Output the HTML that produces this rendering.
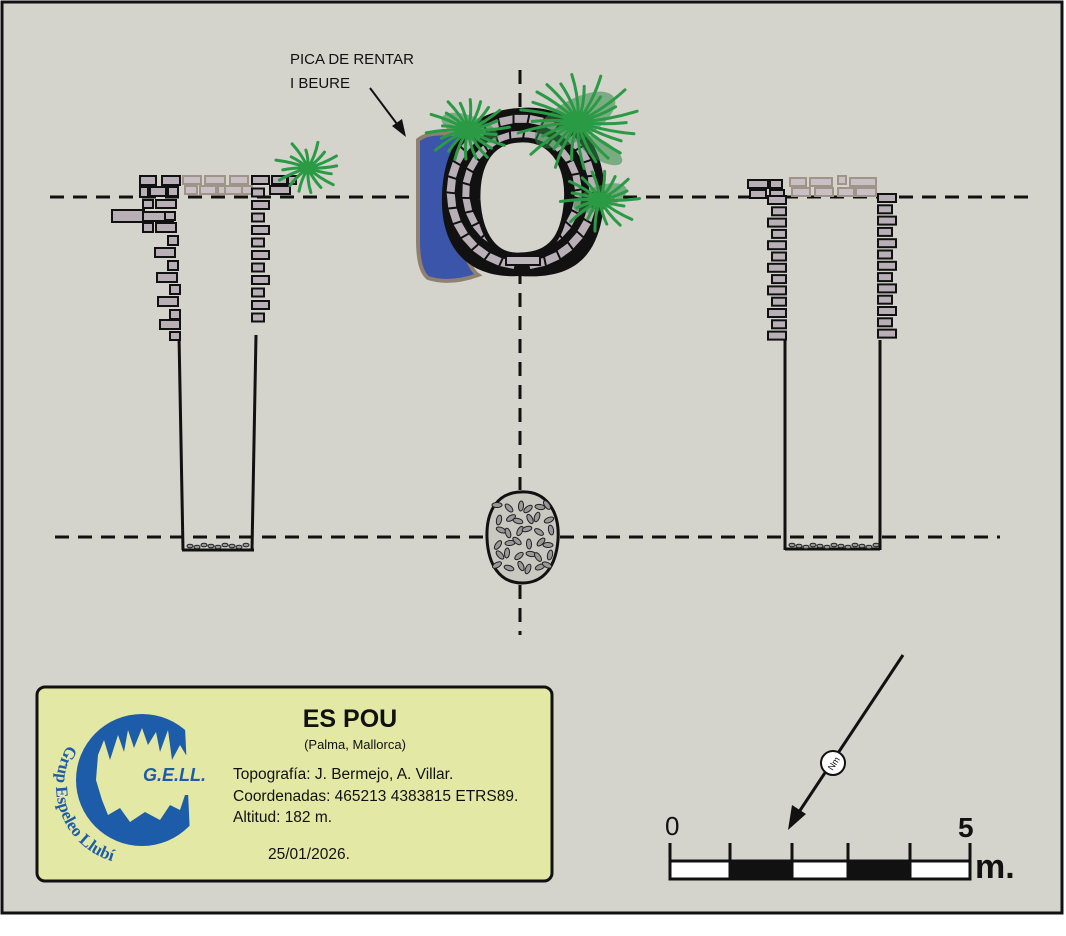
<!DOCTYPE html>
<html><head><meta charset="utf-8"><style>
html,body{margin:0;padding:0;background:#fff}
svg{display:block;font-family:"Liberation Sans",sans-serif}
</style></head><body>
<svg id="s" width="1066" height="936" viewBox="0 0 1066 936" xmlns="http://www.w3.org/2000/svg">
<rect x="0" y="0" width="1066" height="936" fill="#fff"/>
<rect x="2" y="2" width="1060" height="911" fill="#d4d3cc" stroke="#111" stroke-width="3"/>
<g stroke="#111" stroke-width="3" stroke-dasharray="14 9" fill="none">
<line x1="50" y1="197" x2="410" y2="197"/>
<line x1="600" y1="197" x2="1030" y2="197"/>
<line x1="55" y1="537" x2="485" y2="537"/>
<line x1="560" y1="537" x2="1000" y2="537"/>
<line x1="520" y1="70" x2="520" y2="108"/>
<line x1="520" y1="270" x2="520" y2="490"/>
<line x1="520" y1="585" x2="520" y2="635"/>
</g>
<g stroke="#111" stroke-width="3" fill="none">
<line x1="179" y1="335" x2="183" y2="550"/>
<line x1="256" y1="335" x2="252" y2="550"/>
<line x1="182" y1="550" x2="254" y2="550"/>
<line x1="785" y1="340" x2="785" y2="550"/>
<line x1="880" y1="340" x2="880" y2="550"/>
<line x1="785" y1="549" x2="880" y2="549"/>
</g>
<g id="bricks"></g>
<g id="gravel" fill="#999" stroke="#222" stroke-width="1"></g>
<path d="M418 140 Q430 130 460 135 L470 150 Q450 190 460 240 Q470 270 478 275 Q450 285 428 278 Q418 270 418 240 Z" fill="#3b55aa" stroke="#8f8070" stroke-width="4"/>
<path d="M520 108 C578 103 612 150 603 212 C597 255 575 280 520 276 C468 279 440 248 442 195 C444 138 474 110 520 108 Z" fill="#111"/>
<g id="ringb"></g>
<path d="M520 140 C555 138 570 170 566 205 C563 235 552 255 520 255 C495 257 480 235 478 200 C477 165 490 141 520 140 Z" fill="#d4d3cc" stroke="#111" stroke-width="5"/>
<rect x="506" y="256" width="34" height="9" fill="#bdb5bc" stroke="#111" stroke-width="2"/>
<g stroke="#2a9a45" stroke-width="3" fill="none" stroke-linecap="round" id="plants"></g>
<path d="M520 492 C545 490 560 510 558 540 C556 565 545 583 522 583 C500 583 488 565 487 538 C486 510 498 493 520 492 Z" fill="#c9c8c1" stroke="#111" stroke-width="3"/>
<g id="pebbles" fill="#999" stroke="#222" stroke-width="1"></g>
<text x="290" y="64" font-size="15" fill="#111">PICA DE RENTAR</text>
<text x="290" y="88" font-size="15" fill="#111">I BEURE</text>
<line x1="370" y1="88" x2="400" y2="128" stroke="#111" stroke-width="2"/>
<polygon points="406,137 392,126 402,119" fill="#111"/>
<rect x="37" y="687" width="515" height="194" rx="8" fill="#e3e8a4" stroke="#111" stroke-width="3"/>
<circle cx="142" cy="780" r="66" fill="#1c5ca8"/>
<path d="M185 727 L210 740 L210 815 L190 835 Z" fill="#e3e8a4"/>
<path d="M98 755 L104 740 L110 760 L118 735 L124 752 L128 730 L134 748 L142 728 L148 745 L156 732 L160 752 L168 730 L172 760 L180 745 L186 755 L200 755 L200 795 L185 795 L180 810 L170 805 L160 820 L145 812 L130 822 L120 808 L108 815 L102 800 L96 780 Z" fill="#e3e8a4"/>
<text x="143" y="781" font-size="18" font-weight="bold" font-style="italic" fill="#1c5ca8">G.E.LL.</text>
<path id="arc" d="M68 745 A78 78 0 0 0 165 858" fill="none"/>
<text font-family="Liberation Serif,serif" font-size="17" font-weight="bold" fill="#1c5ca8"><textPath href="#arc">Grup Espeleo Llubí</textPath></text>
<text x="350" y="727" font-size="25" font-weight="bold" text-anchor="middle" fill="#111">ES POU</text>
<text x="355" y="749" font-size="13" text-anchor="middle" fill="#111">(Palma, Mallorca)</text>
<text x="233" y="779" font-size="15.5" fill="#111">Topografía: J. Bermejo, A. Villar.</text>
<text x="233" y="801" font-size="15.5" fill="#111">Coordenadas: 465213 4383815 ETRS89.</text>
<text x="233" y="822" font-size="15.5" fill="#111">Altitud: 182 m.</text>
<text x="268" y="859" font-size="15.5" fill="#111">25/01/2026.</text>
<line x1="903" y1="655" x2="797" y2="815" stroke="#111" stroke-width="3"/>
<polygon points="788,830 792,805 806,814" fill="#111"/>
<circle cx="833" cy="763" r="12" fill="#fff" stroke="#111" stroke-width="2"/>
<text x="833" y="767" font-size="9" text-anchor="middle" fill="#111" transform="rotate(-57 833 763)">Nm</text>
<rect x="670" y="861" width="300" height="18" fill="#fff" stroke="#111" stroke-width="3"/>
<rect x="730" y="861" width="62" height="18" fill="#111"/>
<rect x="848" y="861" width="62" height="18" fill="#111"/>
<g stroke="#111" stroke-width="3"><line x1="670" y1="843" x2="670" y2="879"/><line x1="730" y1="843" x2="730" y2="879"/><line x1="792" y1="843" x2="792" y2="879"/><line x1="848" y1="843" x2="848" y2="879"/><line x1="910" y1="843" x2="910" y2="879"/><line x1="970" y1="843" x2="970" y2="879"/></g>
<text x="665" y="835" font-size="26" fill="#111">0</text>
<text x="958" y="837" font-size="28" font-weight="bold" fill="#111">5</text>
<text x="975" y="878" font-size="34" font-weight="bold" fill="#111">m.</text>
</svg>
<script>
var NS="http://www.w3.org/2000/svg";
function R(g,x,y,w,h,c,sc,rot,cx,cy){var r=document.createElementNS(NS,"rect");r.setAttribute("x",x);r.setAttribute("y",y);r.setAttribute("width",w);r.setAttribute("height",h);r.setAttribute("fill",c||"#b8b0b6");r.setAttribute("stroke",sc||"#111");r.setAttribute("stroke-width",2);if(rot!=null)r.setAttribute("transform","rotate("+rot+" "+cx+" "+cy+")");g.appendChild(r);}
var b=document.getElementById("bricks");
[[140,176,16,9],[162,176,18,9],[140,187,8,10],[150,187,16,9],[168,187,10,9]].forEach(a=>R(b,...a));
[[183,176,18,8],[205,176,20,8],[230,176,18,8],[185,186,12,8],[200,186,16,8],[218,186,8,8],[225,186,18,8],[242,186,10,8]].forEach(a=>R(b,a[0],a[1],a[2],a[3],"#c8c0c4","#a09488"));
R(b,112,210,32,12);
[[143,200,10,8],[156,200,20,8],[143,212,30,9],[165,212,10,8],[143,223,10,9],[156,223,20,9],[168,236,10,9],[155,248,20,9],[168,261,10,9],[157,273,20,9],[170,285,10,9],[158,297,20,9],[170,310,10,9],[160,320,20,9],[170,332,10,8]].forEach(a=>R(b,...a));
for(var i=0;i<12;i++){R(b,252,176+i*12.5,i%2?12:17,8);}
[[272,176,15,8],[270,186,20,8],[288,176,8,8]].forEach(a=>R(b,...a));
[[748,180,20,8],[770,180,12,8],[750,190,16,8],[770,190,14,8]].forEach(a=>R(b,...a));
[[790,178,16,8],[810,178,22,8],[838,176,8,8],[850,178,26,8],[792,188,18,8],[815,188,18,8],[838,188,16,8],[856,188,20,8]].forEach(a=>R(b,a[0],a[1],a[2],a[3],"#c8c0c4","#a09488"));
for(var i=0;i<13;i++){R(b,i%2?772:768,196+i*11.3,i%2?14:18,8);R(b,878,194+i*11.3,i%2?14:18,8);}
var rb=document.getElementById("ringb");
function ringRow(r,step,w,h,off){for(var a=off;a<360;a+=step){if(a>78&&a<102)continue;var t=a*Math.PI/180;var x=522+r*1.0*Math.cos(t),y=192+r*1.03*Math.sin(t);R(rb,x-w/2,y-h/2,w,h,null,null,a+90,x,y);}}
ringRow(56,14,16,9,0);ringRow(71,12,17,10,6);
var p=document.getElementById("plants");
function plant(cx,cy,n,len,seed){var d="";for(var i=0;i<n;i++){var t=(i/n)*Math.PI*2+seed;var l=len*(0.6+0.4*Math.abs(Math.sin(i*1.7+seed)));var mx=cx+l*0.5*Math.cos(t+0.15),my=cy+l*0.5*Math.sin(t+0.15)*0.8;d+="M"+cx+" "+cy+" Q"+mx.toFixed(1)+" "+my.toFixed(1)+" "+(cx+l*Math.cos(t)).toFixed(1)+" "+(cy+l*Math.sin(t)*0.8).toFixed(1)+" ";}
var e=document.createElementNS(NS,"path");e.setAttribute("d",d);p.appendChild(e);}
[[575,120,45,20,-30],[470,128,30,12,20],[600,198,28,12,-20],[600,150,25,10,30]].forEach(function(a){var e=document.createElementNS(NS,"ellipse");e.setAttribute("cx",a[0]);e.setAttribute("cy",a[1]);e.setAttribute("rx",a[2]);e.setAttribute("ry",a[3]);e.setAttribute("fill","#2f8a45");e.setAttribute("stroke","none");e.setAttribute("opacity","0.55");e.setAttribute("transform","rotate("+a[4]+" "+a[0]+" "+a[1]+")");p.appendChild(e);});
plant(468,130,22,42,0.2);plant(578,122,26,62,0.5);plant(600,200,18,40,1);plant(308,168,16,34,0.3);
var pb=document.getElementById("pebbles");
for(var i=0;i<36;i++){var x=497+(i%6)*10+((i*7)%5),y=505+Math.floor(i/6)*12+((i*3)%5);var e=document.createElementNS(NS,"ellipse");e.setAttribute("cx",x);e.setAttribute("cy",y);e.setAttribute("rx",5);e.setAttribute("ry",2.5);e.setAttribute("transform","rotate("+(i*47%180)+" "+x+" "+y+")");pb.appendChild(e);}
var gv=document.getElementById("gravel");
function gr(x0,x1){for(var x=x0;x<x1;x+=7){var e=document.createElementNS(NS,"ellipse");e.setAttribute("cx",x);e.setAttribute("cy",545+(x%3));e.setAttribute("rx",3);e.setAttribute("ry",1.8);gv.appendChild(e);}}
gr(190,250);gr(792,878);
</script>
</body></html>
